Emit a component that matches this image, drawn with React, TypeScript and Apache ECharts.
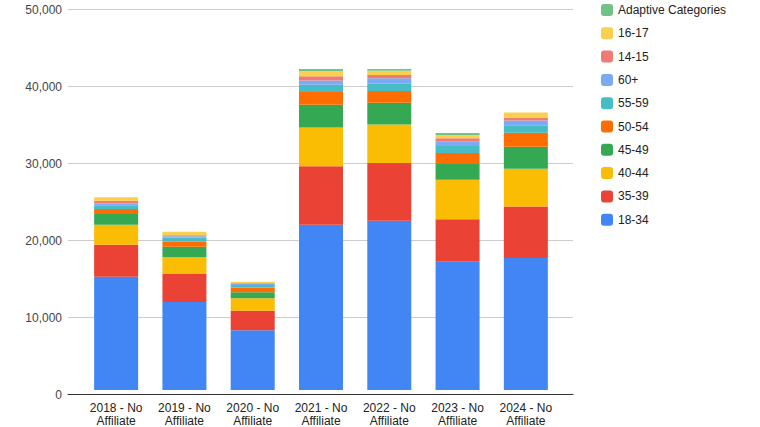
import React, { useEffect, useRef } from "react";
import * as echarts from "echarts";

const categories = [
  "2018 - No\nAffiliate",
  "2019 - No\nAffiliate",
  "2020 - No\nAffiliate",
  "2021 - No\nAffiliate",
  "2022 - No\nAffiliate",
  "2023 - No\nAffiliate",
  "2024 - No\nAffiliate",
];

const seriesNames = [
  "18-34",
  "35-39",
  "40-44",
  "45-49",
  "50-54",
  "55-59",
  "60+",
  "14-15",
  "16-17",
  "Adaptive Categories",
];

const colors = [
  "#4285F4",
  "#EA4335",
  "#FBBC04",
  "#34A853",
  "#FF6D01",
  "#46BDC6",
  "#7BAAF7",
  "#F07B72",
  "#FCD04F",
  "#71C287",
];

const v18_34 = [14890, 11550, 7840, 21700, 22230, 16850, 17360];
const v35_39 = [4200, 3690, 2590, 7700, 7600, 5580, 6760];
const v40_44 = [2630, 2210, 1640, 5110, 5070, 5200, 4940];
const v45_49 = [1400, 1380, 780, 2990, 2860, 2170, 2920];
const v50_54 = [650, 650, 610, 1650, 1530, 1340, 1820];
const v55_59 = [520, 570, 330, 950, 940, 910, 975];
const v60plus = [220, 170, 130, 560, 750, 650, 650];
const v14_15 = [350, 130, 100, 570, 420, 390, 390];
const v16_17 = [470, 430, 200, 690, 560, 430, 650];
const vAdaptive = [0, 0, 0, 260, 220, 260, 0];

const seriesValues = [
  v18_34,
  v35_39,
  v40_44,
  v45_49,
  v50_54,
  v55_59,
  v60plus,
  v14_15,
  v16_17,
  vAdaptive,
];

const yTicks = { min: 0, max: 50000, interval: 10000 };

const FONT = "'Liberation Sans', Arial, sans-serif";

export default function App() {
  const ref = useRef<HTMLDivElement>(null);

  useEffect(() => {
    if (!ref.current) return;
    const chart = echarts.init(ref.current, null, { renderer: "svg" });
    const option: any = {
      animation: false,
      backgroundColor: "#ffffff",
      textStyle: { fontFamily: FONT },
      legend: {
        orient: "vertical",
        left: 601,
        top: 4,
        padding: 0,
        itemWidth: 12,
        itemHeight: 12,
        itemGap: 11.3,
        icon: "roundRect",
        data: seriesNames.slice().reverse(),
        textStyle: {
          fontFamily: FONT,
          fontSize: 12,
          color: "#222222",
          lineHeight: 12,
          padding: [0, 0, 0, 0],
        },
      },
      grid: [
        { left: 68, right: 187, top: 9.5, bottom: 32.5 },
        { left: 82, right: 200, top: 9.5, bottom: 32.5 },
      ],
      xAxis: [
        {
          type: "category",
          gridIndex: 0,
          data: [""],
          axisLine: { show: true, lineStyle: { color: "#333333", width: 1 } },
          axisTick: { show: false },
          axisLabel: { show: false },
          splitLine: { show: false },
        },
        {
          type: "category",
          gridIndex: 1,
          data: categories,
          axisLine: { show: false },
          axisTick: { show: false },
          axisLabel: {
            margin: 11,
            fontFamily: FONT,
            fontSize: 12,
            color: "#222222",
            lineHeight: 13,
            interval: 0,
          },
        },
      ],
      yAxis: [
        {
          type: "value",
          gridIndex: 0,
          min: yTicks.min,
          max: yTicks.max,
          interval: yTicks.interval,
          axisLine: { show: false },
          axisTick: { show: false },
          axisLabel: {
            margin: 6,
            fontFamily: FONT,
            fontSize: 12,
            color: "#444444",
            formatter: (v: number) => v.toLocaleString("en-US"),
          },
          splitLine: { show: true, lineStyle: { color: "#cccccc", width: 1 } },
        },
        {
          type: "value",
          gridIndex: 1,
          min: yTicks.min,
          max: yTicks.max,
          interval: yTicks.interval,
          show: false,
          splitLine: { show: false },
        },
      ],
      series: seriesNames.map((name, i) => ({
        name,
        type: "bar",
        stack: "total",
        xAxisIndex: 1,
        yAxisIndex: 1,
        barWidth: 44,
        itemStyle: { color: colors[i] },
        data: seriesValues[i],
      })),
    };
    chart.setOption(option);
    return () => chart.dispose();
  }, []);

  return (
    <div
      ref={ref}
      style={{ position: "fixed", left: 0, top: 0, width: 760, height: 427 }}
    />
  );
}
